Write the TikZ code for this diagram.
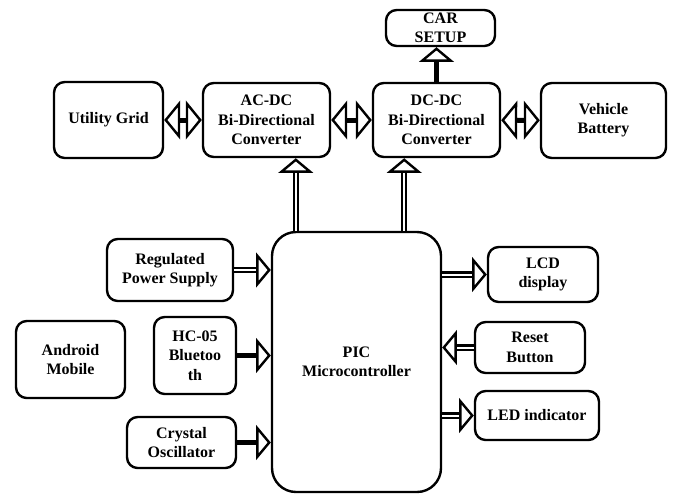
\documentclass[tikz,border=0pt]{standalone}
\usepackage{fontspec}
\setmainfont{Liberation Serif}
\usetikzlibrary{arrows.meta}

\begin{document}
\begin{tikzpicture}[x=0.75pt,y=-0.75pt,
	block/.style={draw, line width=1.8pt, rounded corners=8pt, align=center, inner sep=0pt, font=\bfseries\fontsize{12}{14.5}\selectfont},
	link/.style={line width=4pt, -{Triangle[open, length=11pt, width=26pt, line width=1.8pt]}},
	dlink/.style={double, double distance=1.5pt, line width=1.6pt, -{Triangle[open, length=11pt, width=26pt, line width=1.8pt]}},
	blink/.style={line width=3.75pt, {Triangle[open, length=12pt, width=29pt, line width=1.8pt]}-{Triangle[open, length=12pt, width=29pt, line width=1.8pt]}}]
\useasboundingbox (0,0) rectangle (673,494);

% top row
\node[block, minimum width=81.75pt, minimum height=27pt] (carsetup) at (440.5,28) {CAR\\SETUP};
\node[block, minimum width=81.75pt, minimum height=57pt] (grid) at (108.5,120) {Utility Grid};
\node[block, minimum width=95.25pt, minimum height=55.5pt] (acdc) at (266.5,120) {AC-DC\\Bi-Directional\\Converter};
\node[block, minimum width=95.25pt, minimum height=55.5pt] (dcdc) at (436.5,120) {DC-DC\\Bi-Directional\\Converter};
\node[block, minimum width=93.75pt, minimum height=56.25pt] (battery) at (603.5,120.5) {Vehicle\\Battery};

% controller and its inputs / outputs
\node[block, rounded corners=18pt, minimum width=126.75pt, minimum height=195pt] (pic) at (356.5,362) {PIC\\Microcontroller};
\node[block, minimum width=94.5pt, minimum height=46.5pt] (supply) at (170,270) {Regulated\\Power Supply};
\node[block, minimum width=81.75pt, minimum height=57.75pt] (android) at (70.5,359.5) {Android\\Mobile};
\node[block, minimum width=61.5pt, minimum height=57.75pt] (hc05) at (195,355.5) {HC-05\\Bluetoo\\th};
\node[block, minimum width=81.75pt, minimum height=38.25pt] (crystal) at (181.5,442.5) {Crystal\\Oscillator};
\node[block, minimum width=82.5pt, minimum height=41.25pt] (lcd) at (543,274.5) {LCD\\display};
\node[block, minimum width=82.5pt, minimum height=38.25pt] (reset) at (530,347.5) {Reset\\Button};
\node[block, minimum width=93pt, minimum height=36.75pt] (led) at (537,415.5) {LED indicator};

\coordinate (pa) at ([xshift=18.75pt]pic.north west);
\coordinate (pb) at ([xshift=-28.5pt]pic.north east);

\draw[blink] (grid) -- (acdc);
\draw[blink] (acdc) -- (dcdc);
\draw[blink] (dcdc) -- (battery);
\draw[link] (dcdc.north) -- (dcdc.north |- carsetup.south);
\draw[dlink] (pa) -- (pa |- acdc.south);
\draw[dlink] (pb) -- (pb |- dcdc.south);

\draw[dlink] (supply.east) -- (supply.east -| pic.west);
\draw[link] (hc05.east) -- (hc05.east -| pic.west);
\draw[link] (crystal.east) -- (crystal.east -| pic.west);
\draw[dlink] (pic.east |- lcd.west) -- (lcd.west);
\draw[dlink] (reset.west) -- (reset.west -| pic.east);
\draw[dlink] (pic.east |- led.west) -- (led.west);
\end{tikzpicture}
\end{document}
